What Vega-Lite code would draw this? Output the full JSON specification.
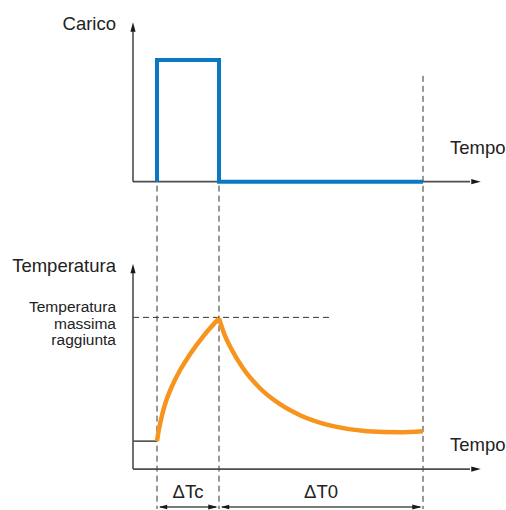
{
  "$schema": "https://vega.github.io/schema/vega-lite/v6.json",
  "width": 506,
  "height": 510,
  "padding": 0,
  "autosize": {"type": "fit", "contains": "padding"},
  "background": "white",
  "config": {"view": {"stroke": null}, "font": "Liberation Sans"},
  "datasets": {
    "axes": [
      {"x": 133, "y": 182, "x2": 133, "y2": 30},
      {"x": 133, "y": 182, "x2": 470, "y2": 182},
      {"x": 133, "y": 470, "x2": 133, "y2": 272},
      {"x": 133, "y": 470, "x2": 470, "y2": 470},
      {"x": 133, "y": 442, "x2": 157, "y2": 442},
      {"x": 160, "y": 508, "x2": 216, "y2": 508},
      {"x": 222, "y": 508, "x2": 420, "y2": 508}
    ],
    "dashed": [
      {"x": 157, "y": 186, "x2": 157, "y2": 510},
      {"x": 219, "y": 186, "x2": 219, "y2": 510},
      {"x": 423, "y": 76, "x2": 423, "y2": 510},
      {"x": 133, "y": 318, "x2": 333, "y2": 318}
    ],
    "heads": [
      {"x": 133, "y": 27, "dir": "up"},
      {"x": 133, "y": 269, "dir": "up"},
      {"x": 476, "y": 182, "dir": "right"},
      {"x": 476, "y": 470, "dir": "right"},
      {"x": 163, "y": 508, "dir": "left"},
      {"x": 225, "y": 508, "dir": "left"},
      {"x": 213, "y": 508, "dir": "right"},
      {"x": 417, "y": 508, "dir": "right"}
    ],
    "load": [
      {"o": 1, "x": 157, "y": 182},
      {"o": 2, "x": 157, "y": 60},
      {"o": 3, "x": 219, "y": 60},
      {"o": 4, "x": 219, "y": 182},
      {"o": 5, "x": 423, "y": 182}
    ],
    "temp": [
      {"s": "rise", "x": 157, "y": 442},
      {"s": "rise", "x": 159, "y": 430},
      {"s": "rise", "x": 162, "y": 416},
      {"s": "rise", "x": 166, "y": 402},
      {"s": "rise", "x": 172, "y": 387},
      {"s": "rise", "x": 180, "y": 371},
      {"s": "rise", "x": 190, "y": 355},
      {"s": "rise", "x": 204, "y": 336},
      {"s": "rise", "x": 219, "y": 319},
      {"s": "decay", "x": 219, "y": 319},
      {"s": "decay", "x": 224, "y": 334},
      {"s": "decay", "x": 231, "y": 349},
      {"s": "decay", "x": 243, "y": 369},
      {"s": "decay", "x": 260, "y": 389},
      {"s": "decay", "x": 280, "y": 405},
      {"s": "decay", "x": 300, "y": 416},
      {"s": "decay", "x": 333, "y": 427},
      {"s": "decay", "x": 367, "y": 432},
      {"s": "decay", "x": 400, "y": 433},
      {"s": "decay", "x": 423, "y": 432}
    ],
    "bigRight": [
      {"x": 116, "y": 24, "t": "Carico"},
      {"x": 116, "y": 267, "t": "Temperatura"}
    ],
    "bigLeft": [
      {"x": 450, "y": 148, "t": "Tempo"},
      {"x": 450, "y": 446, "t": "Tempo"}
    ],
    "small": [
      {"x": 116, "y": 308, "t": "Temperatura"},
      {"x": 116, "y": 325, "t": "massima"},
      {"x": 116, "y": 341, "t": "raggiunta"}
    ],
    "delta": [
      {"x": 188, "y": 493, "t": "ΔTc"},
      {"x": 321, "y": 493, "t": "ΔT0"}
    ]
  },
  "encoding": {
    "x": {"field": "x", "type": "quantitative", "scale": {"domain": [0, 506], "nice": false, "zero": false}, "axis": null},
    "y": {"field": "y", "type": "quantitative", "scale": {"domain": [0, 510], "nice": false, "zero": false, "reverse": true}, "axis": null}
  },
  "layer": [
    {
      "data": {"name": "dashed"},
      "mark": {"type": "rule", "color": "#333333", "strokeWidth": 1, "strokeDash": [6, 4]},
      "encoding": {"x2": {"field": "x2"}, "y2": {"field": "y2"}}
    },
    {
      "data": {"name": "axes"},
      "mark": {"type": "rule", "color": "#4d4d4d", "strokeWidth": 1.6},
      "encoding": {"x2": {"field": "x2"}, "y2": {"field": "y2"}}
    },
    {
      "data": {"name": "heads"},
      "transform": [{"filter": "datum.dir === 'up'"}],
      "mark": {"type": "point", "shape": "M0,-1L0.55,1L-0.55,1Z", "filled": true, "color": "#1a1a1a", "size": 90, "opacity": 1}
    },
    {
      "data": {"name": "heads"},
      "transform": [{"filter": "datum.dir === 'right'"}],
      "mark": {"type": "point", "shape": "M1,0L-1,0.55L-1,-0.55Z", "filled": true, "color": "#1a1a1a", "size": 90, "opacity": 1}
    },
    {
      "data": {"name": "heads"},
      "transform": [{"filter": "datum.dir === 'left'"}],
      "mark": {"type": "point", "shape": "M-1,0L1,0.55L1,-0.55Z", "filled": true, "color": "#1a1a1a", "size": 70, "opacity": 1}
    },
    {
      "data": {"name": "load"},
      "mark": {"type": "line", "color": "#0a78c2", "strokeWidth": 4, "strokeJoin": "miter"},
      "encoding": {"order": {"field": "o", "type": "quantitative"}}
    },
    {
      "data": {"name": "temp"},
      "mark": {"type": "line", "color": "#f7941d", "strokeWidth": 4.5, "interpolate": "monotone", "strokeCap": "butt"},
      "encoding": {"detail": {"field": "s", "type": "nominal"}, "order": {"field": "x", "type": "quantitative"}}
    },
    {
      "data": {"name": "bigRight"},
      "mark": {"type": "text", "align": "right", "baseline": "middle", "fontSize": 18.5, "color": "#222222"},
      "encoding": {"text": {"field": "t"}}
    },
    {
      "data": {"name": "bigLeft"},
      "mark": {"type": "text", "align": "left", "baseline": "middle", "fontSize": 18.5, "color": "#222222"},
      "encoding": {"text": {"field": "t"}}
    },
    {
      "data": {"name": "small"},
      "mark": {"type": "text", "align": "right", "baseline": "middle", "fontSize": 15.5, "color": "#222222"},
      "encoding": {"text": {"field": "t"}}
    },
    {
      "data": {"name": "delta"},
      "mark": {"type": "text", "align": "center", "baseline": "middle", "fontSize": 18.5, "color": "#222222"},
      "encoding": {"text": {"field": "t"}}
    }
  ]
}
